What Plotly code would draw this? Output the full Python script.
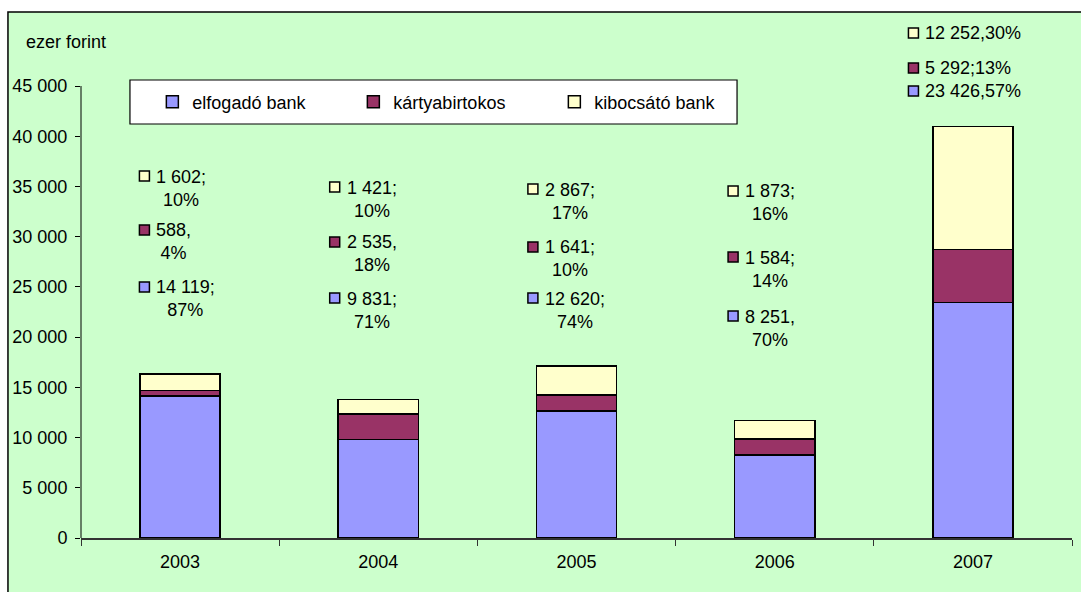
import plotly.graph_objects as go

# ---- data ----
years = ["2003", "2004", "2005", "2006", "2007"]
elfogado = [14119, 9831, 12620, 8251, 23426]
kartya = [588, 2535, 1641, 1584, 5292]
kibocsato = [1602, 1421, 2867, 1873, 12252]

pct_elf = [87, 71, 74, 70, 57]
pct_kar = [4, 18, 10, 14, 13]
pct_kib = [10, 10, 17, 16, 30]

sep_elf = [";", ";", ";", ",", ","]
sep_kar = [",", ",", ";", ";", ";"]
sep_kib = [";", ";", ";", ";", ","]

y_ticks = [0, 5000, 10000, 15000, 20000, 25000, 30000, 35000, 40000, 45000]

# label placement (as drawn in the source chart)
label_x = [-0.18, 0.78, 1.78, 2.79, 3.70]
label_y_kib = [36040, 34945, 34746, 34547, 50278]
label_y_kar = [30665, 29470, 28972, 27976, 46793]
label_y_elf = [24990, 23894, 23894, 22102, 44503]
two_line = [True, True, True, True, False]

series = [
    ("elfogadó bank", elfogado, pct_elf, sep_elf, label_y_elf, "#9999FF"),
    ("kártyabirtokos", kartya, pct_kar, sep_kar, label_y_kar, "#993366"),
    ("kibocsátó bank", kibocsato, pct_kib, sep_kib, label_y_kib, "#FFFFCC"),
]

FONT = "Liberation Sans, Arial, sans-serif"
FS = 18

# plot area: top margin small so the 2007 labels above 45 000 stay in range
T, B = 14, 54
PLOT_H = 592 - T - B
Y_MAX = 45000 * PLOT_H / 452.0


def fmt(v):
    return f"{v:,}".replace(",", " ")


def py(pix):
    """pixel row -> paper y"""
    return (538 - pix) / PLOT_H


fig = go.Figure()

for name, vals, pcts, seps, ly, col in series:
    fig.add_trace(go.Bar(
        x=years, y=vals, name=name,
        marker=dict(color=col, line=dict(color="black", width=1.5)),
    ))

annotations = []
for name, vals, pcts, seps, ly, col in series:
    fig.add_trace(go.Scatter(
        x=label_x, y=ly, xaxis="x2", yaxis="y", mode="markers",
        marker=dict(symbol="square", size=10, color=col,
                    line=dict(color="black", width=1.5)),
        showlegend=False, cliponaxis=False, hoverinfo="skip",
    ))
    for i in range(len(vals)):
        if two_line[i]:
            txt = f"{fmt(vals[i])}{seps[i]}<br>{pcts[i]}%"
            ysh = -12
        else:
            txt = f"{fmt(vals[i])}{seps[i]}{pcts[i]}%"
            ysh = 0
        annotations.append(dict(
            x=label_x[i], y=ly[i], xref="x2", yref="y", text=txt,
            showarrow=False, xanchor="left", yanchor="middle", align="center",
            xshift=10, yshift=ysh, font=dict(family=FONT, size=FS, color="black"),
        ))

annotations.append(dict(
    x=-0.0575, y=py(42), xref="paper", yref="paper", text="ezer forint",
    showarrow=False, xanchor="left", yanchor="middle",
    font=dict(family=FONT, size=FS, color="black"),
))

shapes = [
    dict(type="rect", xref="paper", yref="paper", x0=-0.0737, x1=1.05,
         y0=-0.2, y1=py(12), fillcolor="#CCFFCC",
         line=dict(color="black", width=1.5), layer="below"),
    dict(type="rect", xref="paper", yref="paper", x0=0.0494, x1=0.662,
         y0=py(124), y1=py(80), fillcolor="white",
         line=dict(color="black", width=1.2), layer="below"),
    dict(type="line", xref="paper", yref="y", x0=0, x1=0,
         y0=0, y1=y_ticks[-1], line=dict(color="black", width=1)),
]

fig.update_layout(
    width=1081, height=592,
    margin=dict(l=81, r=9, t=T, b=B),
    paper_bgcolor="white",
    plot_bgcolor="rgba(0,0,0,0)",
    barmode="stack", bargap=0.595,
    separators=", ",
    font=dict(family=FONT, size=FS, color="black"),
    showlegend=True,
    legend=dict(
        orientation="h", x=0.072, xanchor="left", y=py(102), yanchor="middle",
        traceorder="normal",
        bgcolor="rgba(0,0,0,0)", borderwidth=0,
        entrywidth=156, entrywidthmode="pixels",
        font=dict(family=FONT, size=FS, color="black"),
    ),
    xaxis=dict(
        type="category", range=[-0.5, 4.5], tickson="boundaries",
        ticks="outside", ticklen=6, tickcolor="#333333",
        showline=True, linecolor="#333333", linewidth=1.5,
        showgrid=False, ticklabelstandoff=7,
        tickfont=dict(family=FONT, size=FS, color="black"),
    ),
    xaxis2=dict(
        overlaying="x", anchor="y", range=[-0.5, 4.5], visible=False,
    ),
    yaxis=dict(
        range=[0, Y_MAX], tickvals=y_ticks, tickformat=",d",
        ticks="outside", ticklen=5, tickcolor="black",
        showline=False, showgrid=False, zeroline=False, ticklabelstandoff=4,
        tickfont=dict(family=FONT, size=FS, color="black"),
    ),
    annotations=annotations,
    shapes=shapes,
)

fig.write_html("out.html")
